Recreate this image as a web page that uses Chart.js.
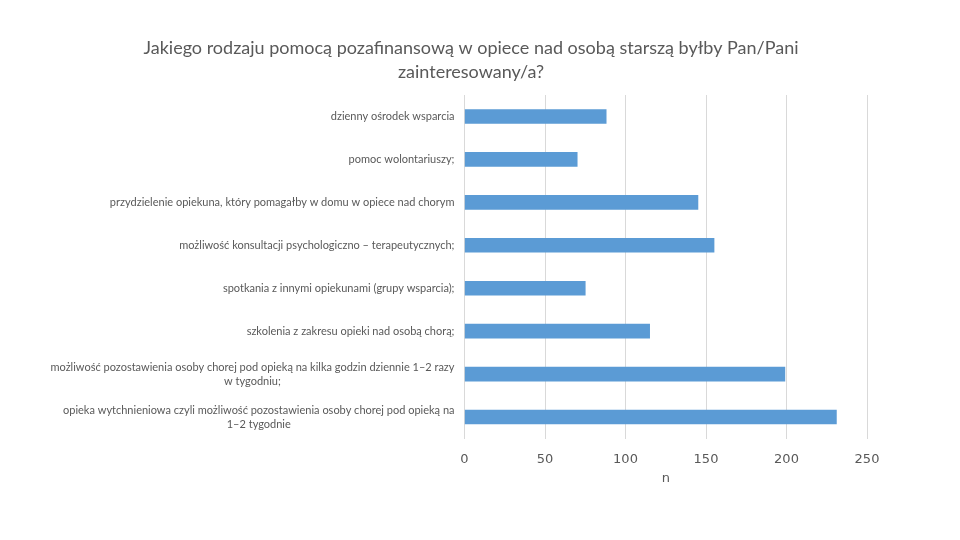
<!DOCTYPE html>
<html><head><meta charset="utf-8">
<script src="https://cdn.jsdelivr.net/npm/chart.js@4"></script>
<style>html,body{margin:0;padding:0;background:#fff}</style>
</head><body>
<canvas id="c" width="960" height="540"></canvas>
<script>
const titleLines = ['Jakiego rodzaju pomocą pozafinansową w opiece nad osobą starszą byłby Pan/Pani', 'zainteresowany/a?'];
const categories = [
  'dzienny ośrodek wsparcia',
  'pomoc wolontariuszy;',
  'przydzielenie opiekuna, który pomagałby w domu w opiece nad chorym',
  'możliwość konsultacji psychologiczno – terapeutycznych;',
  'spotkania z innymi opiekunami (grupy wsparcia);',
  'szkolenia z zakresu opieki nad osobą chorą;',
  ['możliwość pozostawienia osoby chorej pod opieką na kilka godzin dziennie 1–2 razy', 'w tygodniu;'],
  ['opieka wytchnieniowa czyli możliwość pozostawienia osoby chorej pod opieką na', '1–2 tygodnie']
];
const values = [88, 70, 145, 155, 75, 115, 199, 231];
const xTicks = [0, 50, 100, 150, 200, 250];
const xAxisTitle = 'n';

const TEXT = '#595959';
const FONT = 'Lato, "Open Sans", sans-serif';

const titlePlugin = {
  id: 'customTitle',
  afterDraw(chart) {
    const ctx = chart.ctx;
    ctx.save();
    ctx.fillStyle = TEXT;
    ctx.font = '18px ' + FONT;
    ctx.textAlign = 'center';
    ctx.textBaseline = 'middle';
    titleLines.forEach((t, i) => ctx.fillText(t, 471, 48 + i * 24));
    ctx.restore();
  }
};

const yLabelPlugin = {
  id: 'yLabels',
  afterDraw(chart) {
    const ctx = chart.ctx;
    const ys = chart.scales.y;
    ctx.save();
    ctx.fillStyle = TEXT;
    ctx.font = '11px ' + FONT;
    ctx.textBaseline = 'middle';
    const xRight = chart.chartArea.left - 10;
    categories.forEach((lab, i) => {
      const lines = Array.isArray(lab) ? lab : [lab];
      const y = ys.getPixelForValue(i);
      const lh = 14;
      const y0 = y - (lines.length - 1) * lh / 2;
      if (lines.length === 1) {
        ctx.textAlign = 'right';
        ctx.fillText(lines[0], xRight, y0);
      } else {
        const w = Math.max(...lines.map(l => ctx.measureText(l).width));
        ctx.textAlign = 'center';
        lines.forEach((l, k) => ctx.fillText(l, xRight - w / 2, y0 + k * lh));
      }
    });
    ctx.restore();
  }
};

new Chart(document.getElementById('c'), {
  type: 'bar',
  data: {
    labels: categories,
    datasets: [{
      data: values,
      backgroundColor: '#5B9BD5',
      borderWidth: 0,
      barThickness: 14
    }]
  },
  options: {
    indexAxis: 'y',
    responsive: false,
    animation: false,
    layout: { padding: { top: 95, right: 93, bottom: 41.5, left: 0 } },
    plugins: { legend: { display: false }, title: { display: false }, tooltip: { enabled: false } },
    scales: {
      x: {
        min: 0, max: 250,
        afterBuildTicks(scale) { scale.ticks = xTicks.map(v => ({ value: v })); },
        afterFit(scale) { scale.height = 60; },
        grid: { color: '#D9D9D9', drawTicks: false },
        border: { display: false },
        ticks: { padding: 13, color: TEXT, font: { family: 'DejaVu Sans', size: 13 } },
        title: { display: true, text: xAxisTitle, color: TEXT, font: { family: 'DejaVu Sans', size: 13 }, padding: { top: 0, bottom: 12 } }
      },
      y: {
        afterFit(scale) { scale.width = 464.5; },
        grid: { display: false },
        border: { display: false },
        ticks: { display: false }
      }
    }
  },
  plugins: [titlePlugin, yLabelPlugin]
});
</script>
</body></html>
